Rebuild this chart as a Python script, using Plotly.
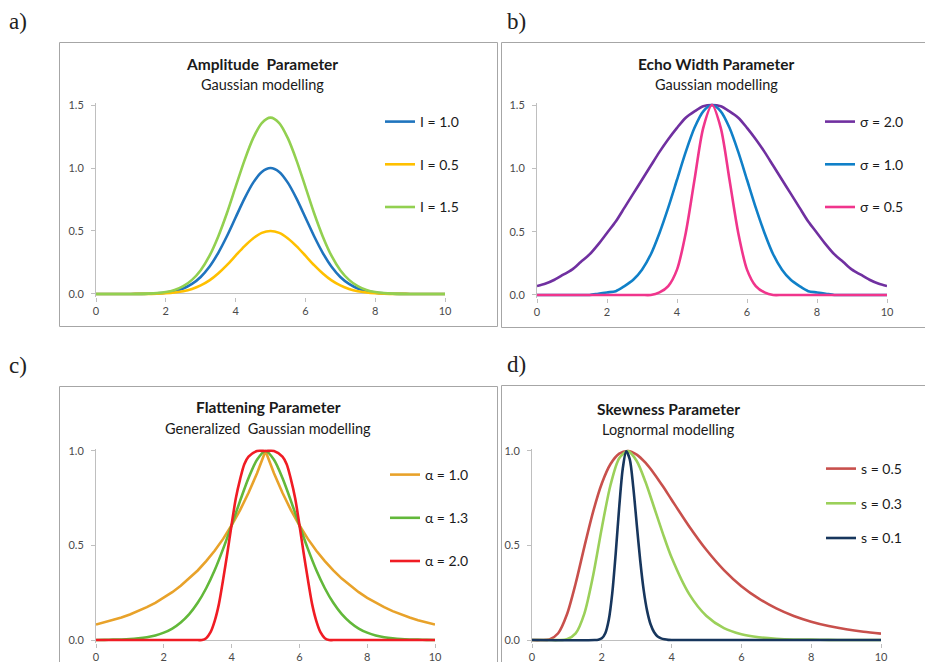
import plotly.graph_objects as go

# ---------------- data ----------------
x_q = [0, 0.25, 0.5, 0.75, 1, 1.25, 1.5, 1.75, 2, 2.25, 2.5, 2.75, 3, 3.25, 3.5, 3.75, 4, 4.25, 4.5, 4.75,
       5, 5.25, 5.5, 5.75, 6, 6.25, 6.5, 6.75, 7, 7.25, 7.5, 7.75, 8, 8.25, 8.5, 8.75, 9, 9.25, 9.5, 9.75, 10]

# a) Amplitude parameter
a_names = ["I = 1.0", "I = 0.5", "I = 1.5"]
a_I10 = [0, 0, 0, 0, 0, 0.001, 0.002, 0.005, 0.011, 0.023, 0.044, 0.080, 0.135, 0.216, 0.325, 0.458, 0.607, 0.755, 0.882, 0.969,
         1.000, 0.969, 0.882, 0.755, 0.607, 0.458, 0.325, 0.216, 0.135, 0.080, 0.044, 0.023, 0.011, 0.005, 0.002, 0.001, 0, 0, 0, 0, 0]
a_I05 = [0, 0, 0, 0, 0, 0.001, 0.001, 0.003, 0.006, 0.012, 0.022, 0.040, 0.068, 0.108, 0.163, 0.229, 0.304, 0.378, 0.441, 0.485,
         0.500, 0.485, 0.441, 0.378, 0.304, 0.229, 0.163, 0.108, 0.068, 0.040, 0.022, 0.012, 0.006, 0.003, 0.001, 0.001, 0, 0, 0, 0, 0]
a_I15 = [0, 0, 0, 0, 0, 0.001, 0.003, 0.007, 0.015, 0.032, 0.062, 0.112, 0.189, 0.302, 0.455, 0.641, 0.850, 1.057, 1.235, 1.357,
         1.400, 1.357, 1.235, 1.057, 0.850, 0.641, 0.455, 0.302, 0.189, 0.112, 0.062, 0.032, 0.015, 0.007, 0.003, 0.001, 0, 0, 0, 0, 0]

# b) Echo width parameter
b_names = ["σ = 2.0", "σ = 1.0", "σ = 0.5"]
b_s20 = [0.07, 0.09, 0.12, 0.16, 0.20, 0.26, 0.32, 0.40, 0.49, 0.58, 0.69, 0.80, 0.91, 1.02, 1.13, 1.23, 1.32, 1.40, 1.45, 1.49,
         1.50, 1.49, 1.45, 1.40, 1.32, 1.23, 1.13, 1.02, 0.91, 0.80, 0.69, 0.58, 0.49, 0.40, 0.32, 0.26, 0.20, 0.16, 0.12, 0.09, 0.07]
b_s10 = [0, 0, 0, 0, 0, 0, 0, 0.01, 0.02, 0.03, 0.07, 0.12, 0.20, 0.32, 0.49, 0.69, 0.91, 1.13, 1.32, 1.45,
         1.50, 1.45, 1.32, 1.13, 0.91, 0.69, 0.49, 0.32, 0.20, 0.12, 0.07, 0.03, 0.02, 0.01, 0, 0, 0, 0, 0, 0, 0]
b_s05 = [0, 0, 0, 0, 0, 0, 0, 0, 0, 0, 0, 0, 0, 0, 0.02, 0.07, 0.20, 0.49, 0.91, 1.32,
         1.50, 1.32, 0.91, 0.49, 0.20, 0.07, 0.02, 0, 0, 0, 0, 0, 0, 0, 0, 0, 0, 0, 0, 0, 0]

# c) Flattening parameter
c_names = ["α = 1.0", "α = 1.3", "α = 2.0"]
c_a10 = [0.082, 0.093, 0.105, 0.119, 0.135, 0.153, 0.174, 0.197, 0.223, 0.253, 0.287, 0.325, 0.368, 0.417, 0.472, 0.535, 0.607, 0.687, 0.779, 0.882,
         1.000, 0.882, 0.779, 0.687, 0.607, 0.535, 0.472, 0.417, 0.368, 0.325, 0.287, 0.253, 0.223, 0.197, 0.174, 0.153, 0.135, 0.119, 0.105, 0.093, 0.082]
c_a13 = [0, 0.001, 0.002, 0.003, 0.005, 0.009, 0.015, 0.024, 0.039, 0.061, 0.093, 0.137, 0.197, 0.274, 0.369, 0.482, 0.607, 0.736, 0.857, 0.954,
         1.000, 0.954, 0.857, 0.736, 0.607, 0.482, 0.369, 0.274, 0.197, 0.137, 0.093, 0.061, 0.039, 0.024, 0.015, 0.009, 0.005, 0.003, 0.002, 0.001, 0]
x_c_red = [0, 2.75, 3.0, 3.125, 3.25, 3.375, 3.5, 3.625, 3.75, 3.875, 4.0, 4.125, 4.25, 4.375, 4.5, 4.75,
           5.0, 5.25, 5.5, 5.625, 5.75, 5.875, 6.0, 6.125, 6.25, 6.375, 6.5, 6.625, 6.75, 6.875, 7.0, 7.25, 10]
c_a20 = [0, 0, 0, 0, 0.01, 0.04, 0.10, 0.19, 0.32, 0.46, 0.61, 0.75, 0.85, 0.93, 0.97, 1.00,
         1.00, 1.00, 0.97, 0.93, 0.85, 0.75, 0.61, 0.46, 0.32, 0.19, 0.10, 0.04, 0.01, 0, 0, 0, 0]

# d) Skewness parameter
d_names = ["s = 0.5", "s = 0.3", "s = 0.1"]
x_d = [0, 0.25, 0.5, 0.75, 1, 1.25, 1.5, 1.75, 2, 2.25, 2.5, 2.75, 3, 3.25, 3.5, 3.75, 4,
       4.5, 5, 5.5, 6, 6.5, 7, 7.5, 8, 8.5, 9, 9.5, 10]
d_s05 = [0, 0, 0.003, 0.036, 0.135, 0.299, 0.493, 0.678, 0.828, 0.931, 0.986, 1.000, 0.981, 0.938, 0.880, 0.813, 0.742,
         0.602, 0.476, 0.370, 0.285, 0.219, 0.167, 0.127, 0.097, 0.074, 0.057, 0.044, 0.034]
d_s03 = [0, 0, 0, 0, 0.004, 0.035, 0.140, 0.340, 0.593, 0.820, 0.962, 0.999, 0.947, 0.837, 0.701, 0.563, 0.436,
         0.244, 0.127, 0.063, 0.031, 0.015, 0.007, 0.003, 0.002, 0.001, 0, 0, 0]
x_d01 = [0, 1.8, 1.9, 2.0, 2.1, 2.2, 2.3, 2.4, 2.5, 2.6, 2.7, 2.8, 2.9, 3.0, 3.1, 3.2, 3.3, 3.4, 3.5,
         3.6, 3.7, 3.8, 3.9, 4.0, 10]
d_s01 = [0, 0, 0.002, 0.009, 0.036, 0.107, 0.248, 0.461, 0.705, 0.906, 0.998, 0.957, 0.811, 0.615, 0.422, 0.264, 0.153, 0.082, 0.041,
         0.019, 0.009, 0.004, 0.001, 0, 0]

x_ticks = [0, 2, 4, 6, 8, 10]

# ---------------- figure ----------------
# the page body has an 8px margin, so the figure is 16px smaller and shifted
OFF = 8
W, H = 933 - 2 * OFF, 670 - 2 * OFF
def px(v):
    return (v - OFF) / W
def py(v):
    return 1 - (v - OFF) / H

FONT = "Lato, 'Open Sans', sans-serif"
fig = go.Figure()

def add(x, y, name, color, xa, ya, leg, grp, shape="spline", sm=0.8):
    fig.add_trace(go.Scatter(
        x=x, y=y, name=name, mode="lines",
        line=dict(color=color, width=2.6, shape=shape, smoothing=sm if shape == "spline" else None),
        xaxis=xa, yaxis=ya, legend=leg, legendgroup=grp, hoverinfo="skip"))

add(x_q, a_I10, a_names[0], "#1F74BE", "x", "y", "legend", "a1")
add(x_q, a_I05, a_names[1], "#FFC000", "x", "y", "legend", "a2")
add(x_q, a_I15, a_names[2], "#92D050", "x", "y", "legend", "a3")

add(x_q, b_s20, b_names[0], "#7030A0", "x2", "y2", "legend2", "b1")
add(x_q, b_s10, b_names[1], "#1080C8", "x2", "y2", "legend2", "b2")
add(x_q, b_s05, b_names[2], "#F0358C", "x2", "y2", "legend2", "b3")

add(x_q, c_a10, c_names[0], "#E8A22A", "x3", "y3", "legend3", "c1", shape="linear")
add(x_q, c_a13, c_names[1], "#62B83A", "x3", "y3", "legend3", "c2")
add(x_c_red, c_a20, c_names[2], "#F01C24", "x3", "y3", "legend3", "c3")

add(x_d, d_s05, d_names[0], "#C8504C", "x4", "y4", "legend4", "d1")
add(x_d, d_s03, d_names[1], "#9BD05A", "x4", "y4", "legend4", "d2")
add(x_d01, d_s01, d_names[2], "#17365D", "x4", "y4", "legend4", "d3")

AX = "#BFBFBF"
TICKF = dict(family=FONT, size=11, color="#4A4A4A")

def xax(l, r, anchor):
    return dict(domain=[px(l), px(r)], range=[0, 10], anchor=anchor, tickvals=x_ticks,
                showline=False, zeroline=False, showgrid=False, ticks="outside", ticklen=4,
                tickcolor=AX, tickfont=TICKF, fixedrange=True)

def yax(top, bot, rng, anchor):
    return dict(domain=[py(bot), py(top)], range=rng, anchor=anchor, dtick=0.5, tick0=0,
                tickformat=".1f", showline=True, linecolor=AX, linewidth=1, zeroline=True,
                zerolinecolor=AX, zerolinewidth=1, showgrid=False, ticks="outside", ticklen=4,
                tickcolor=AX, tickfont=TICKF, ticklabelstandoff=5, fixedrange=True)

def leg(x, y, gap):
    return dict(x=px(x), y=py(y), xanchor="left", yanchor="top", bgcolor="rgba(0,0,0,0)",
                font=dict(family=FONT, size=14, color="#1A1A1A"), tracegroupgap=gap,
                itemwidth=30)

fig.update_layout(
    template="none",
    width=W, height=H, autosize=False, margin=dict(l=0, r=0, t=0, b=0),
    paper_bgcolor="white", plot_bgcolor="white", font=dict(family=FONT, color="#1A1A1A"),
    showlegend=True,
    xaxis=xax(96, 445, "y"), yaxis=yax(102.5, 296.5, [-0.02, 1.52], "x"),
    xaxis2=xax(537, 887, "y2"), yaxis2=yax(102.5, 297.5, [-0.02, 1.52], "x2"),
    xaxis3=xax(96, 435, "y3"), yaxis3=yax(448.5, 642.5, [-0.013, 1.013], "x3"),
    xaxis4=xax(532, 881, "y4"), yaxis4=yax(448.5, 642.5, [-0.013, 1.013], "x4"),
    legend=leg(380, 106, 21.5),
    legend2=leg(820, 106, 21.5),
    legend3=leg(385, 459, 22),
    legend4=leg(821, 453, 13.5),
)

# panel frames
BOX = "#A6A6A6"
for x0, y0, x1, y1 in [(59.5, 42.5, 497.5, 326.5), (501.5, 42.5, 945, 327.5),
                       (59.5, 386.5, 497.5, 680), (501.5, 385.5, 945, 680)]:
    fig.add_shape(type="rect", xref="paper", yref="paper", x0=px(x0), x1=px(x1), y0=py(y1), y1=py(y0),
                  line=dict(color=BOX, width=1), layer="below")

# titles
titles = [("Amplitude  Parameter", "Gaussian modelling", 262, 64, 84),
          ("Echo Width Parameter", "Gaussian modelling", 716, 64, 84),
          ("Flattening Parameter", "Generalized  Gaussian modelling", 268, 407, 428),
          ("Skewness Parameter", "Lognormal modelling", 668, 409, 429)]
for t, s, cx, ty, sy in titles:
    fig.add_annotation(text="<b>" + t + "</b>", xref="paper", yref="paper", x=px(cx), y=py(ty),
                       xanchor="center", yanchor="middle", showarrow=False,
                       font=dict(family=FONT, size=15.5, color="#1A1A1A"))
    fig.add_annotation(text=s, xref="paper", yref="paper", x=px(cx), y=py(sy),
                       xanchor="center", yanchor="middle", showarrow=False,
                       font=dict(family=FONT, size=14.5, color="#1A1A1A"))

# panel letters
for lab, lx, ly in [("a)", 8, 8), ("b)", 506, 8), ("c)", 8, 352), ("d)", 506, 351)]:
    fig.add_annotation(text=lab, xref="paper", yref="paper", x=px(lx), y=py(ly),
                       xanchor="left", yanchor="top", showarrow=False, borderpad=0,
                       font=dict(family="'Liberation Serif', serif", size=23, color="#222222"))

fig.write_html("out.html")
